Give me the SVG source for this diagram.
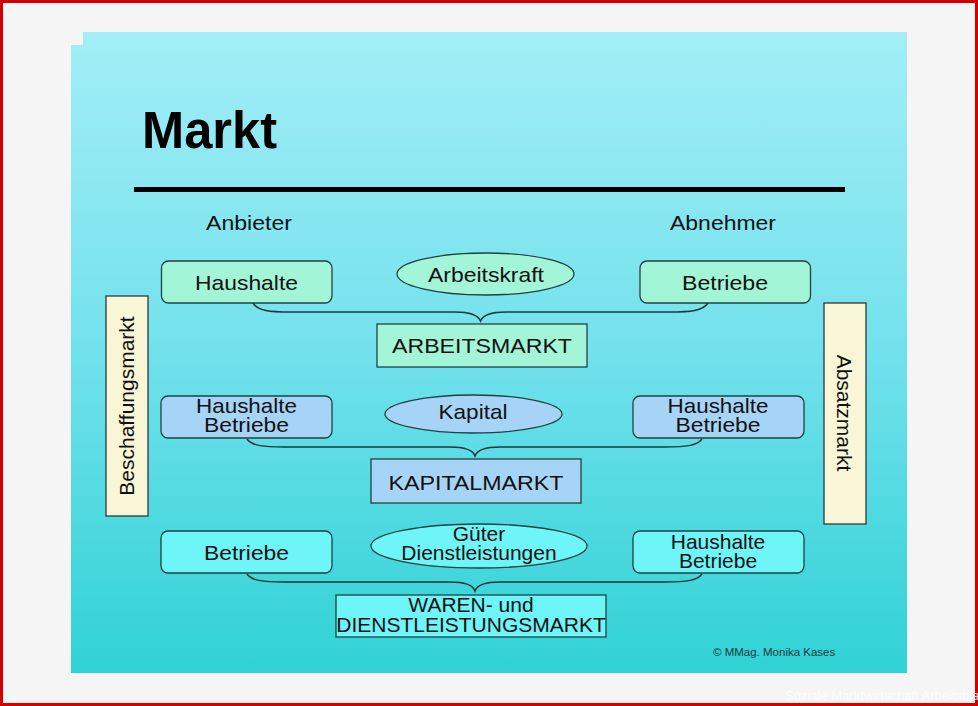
<svg xmlns="http://www.w3.org/2000/svg" width="978" height="706" viewBox="0 0 978 706">
<defs>
<linearGradient id="slideGrad" x1="0" y1="0" x2="0" y2="1">
<stop offset="0" stop-color="#a2eef6"/>
<stop offset="0.5" stop-color="#72e1ec"/>
<stop offset="1" stop-color="#2fd2d5"/>
</linearGradient>
<style>
text{font-family:"Liberation Sans",Arial,sans-serif;fill:#111;}
.lbl{font-size:21px;text-anchor:middle;}
.box{stroke:#1f4242;stroke-width:1.3;}
.mint{fill:#a3f5d8;}
.blue{fill:#a6d4f7;}
.cyan{fill:#6ef5f8;}
.cream{fill:#f8f6d6;stroke:#2a3a3a;stroke-width:1.3;}
.brace{fill:none;stroke:#1a3838;stroke-width:1.5;}
</style>
</defs>
<rect x="0" y="0" width="978" height="706" fill="#f5f5f5"/>
<rect x="1.5" y="1.5" width="975" height="703" fill="none" stroke="#d40000" stroke-width="3"/>
<path d="M83,32 H907 V673 H71 V45 H83 Z" fill="url(#slideGrad)"/>
<g id="title">
<text x="142" y="148" font-size="51" font-weight="bold" style="fill:#000" textLength="135" lengthAdjust="spacingAndGlyphs">Markt</text>
<rect x="134" y="187" width="711" height="5" fill="#000"/>
</g>
<g id="headers">
<text x="249" y="230" class="lbl" font-size="22" textLength="86" lengthAdjust="spacingAndGlyphs">Anbieter</text>
<text x="723" y="230" class="lbl" font-size="22" textLength="106" lengthAdjust="spacingAndGlyphs">Abnehmer</text>
</g>
<g id="connectors">
<path class="brace" d="M253,303 C258,311 270,312 290,312 L455,312 C470,312 478,315 480.5,321 C483,315 491,312 506,312 L670,312 C690,312 703,311 708,303"/>
<path class="brace" d="M247,439 C252,446 264,447 284,447 L450,447 C465,447 473,450 475,456 C477,450 485,447 500,447 L665,447 C685,447 697,446 702,439"/>
<path class="brace" d="M247,574 C252,581 264,582 284,582 L450,582 C465,582 473,585 475,591 C477,585 485,582 500,582 L665,582 C685,582 697,581 702,574"/>
</g>
<g id="beschaffungsmarkt">
<rect x="106" y="296" width="42" height="220" class="cream"/>
<text class="lbl" font-size="22" transform="translate(134,406) rotate(-90)">Beschaffungsmarkt</text>
</g>
<g id="absatzmarkt">
<rect x="824" y="303" width="42" height="221" class="cream"/>
<text class="lbl" font-size="22" transform="translate(837,413) rotate(90)">Absatzmarkt</text>
</g>
<g id="haushalte1">
<rect x="161.5" y="261" width="170.5" height="42" rx="7" class="box mint"/>
<text x="246.5" y="290" class="lbl" font-size="22" textLength="103" lengthAdjust="spacingAndGlyphs">Haushalte</text>
</g>
<g id="arbeitskraft">
<ellipse cx="485.5" cy="274" rx="88.5" ry="21" class="box mint"/>
<text x="486" y="282" class="lbl" font-size="21" textLength="116" lengthAdjust="spacingAndGlyphs">Arbeitskraft</text>
</g>
<g id="betriebe1">
<rect x="640" y="261" width="170.5" height="42" rx="7" class="box mint"/>
<text x="725" y="290" class="lbl" font-size="22" textLength="86" lengthAdjust="spacingAndGlyphs">Betriebe</text>
</g>
<g id="arbeitsmarkt">
<rect x="377" y="324" width="210" height="43" class="box mint"/>
<text x="482" y="353" class="lbl" font-size="22" textLength="180" lengthAdjust="spacingAndGlyphs">ARBEITSMARKT</text>
</g>
<g id="haushalte-betriebe2">
<rect x="161" y="396" width="171" height="42" rx="7" class="box blue"/>
<text x="246.5" y="413" class="lbl" textLength="101" lengthAdjust="spacingAndGlyphs">Haushalte</text>
<text x="246.5" y="432" class="lbl" textLength="85" lengthAdjust="spacingAndGlyphs">Betriebe</text>
</g>
<g id="kapital">
<ellipse cx="473.5" cy="414" rx="88.5" ry="19" class="box blue"/>
<text x="473" y="419" class="lbl" font-size="22" textLength="69" lengthAdjust="spacingAndGlyphs">Kapital</text>
</g>
<g id="haushalte-betriebe2r">
<rect x="633" y="396" width="171" height="42" rx="7" class="box blue"/>
<text x="718" y="413" class="lbl" textLength="101" lengthAdjust="spacingAndGlyphs">Haushalte</text>
<text x="718" y="432" class="lbl" textLength="85" lengthAdjust="spacingAndGlyphs">Betriebe</text>
</g>
<g id="kapitalmarkt">
<rect x="371" y="459" width="210" height="44" class="box blue"/>
<text x="476" y="490" class="lbl" font-size="22" textLength="175" lengthAdjust="spacingAndGlyphs">KAPITALMARKT</text>
</g>
<g id="betriebe3">
<rect x="161" y="531" width="171" height="42" rx="7" class="box cyan"/>
<text x="246.5" y="560" class="lbl" textLength="85" lengthAdjust="spacingAndGlyphs">Betriebe</text>
</g>
<g id="gueter">
<ellipse cx="479" cy="546" rx="108" ry="22" class="box cyan"/>
<text x="479" y="541" class="lbl" font-size="20">Güter</text>
<text x="479" y="560" class="lbl" font-size="19.5">Dienstleistungen</text>
</g>
<g id="haushalte-betriebe3">
<rect x="633" y="531" width="171" height="42" rx="7" class="box cyan"/>
<text x="718" y="549" class="lbl">Haushalte</text>
<text x="718" y="568" class="lbl">Betriebe</text>
</g>
<g id="warenmarkt">
<rect x="336" y="595" width="270" height="42" class="box cyan"/>
<text x="471" y="612" class="lbl" font-size="20.5">WAREN- und</text>
<text x="471" y="632" class="lbl" font-size="20.5">DIENSTLEISTUNGSMARKT</text>
</g>
<text x="713" y="656" font-size="11.5" style="fill:#1a3a3a">© MMag. Monika Kases</text>
<text x="785" y="700" font-size="13" style="fill:#ffffff;opacity:0.85">Soziale Marktwirtschaft Arbeitsblatt</text>
</svg>
